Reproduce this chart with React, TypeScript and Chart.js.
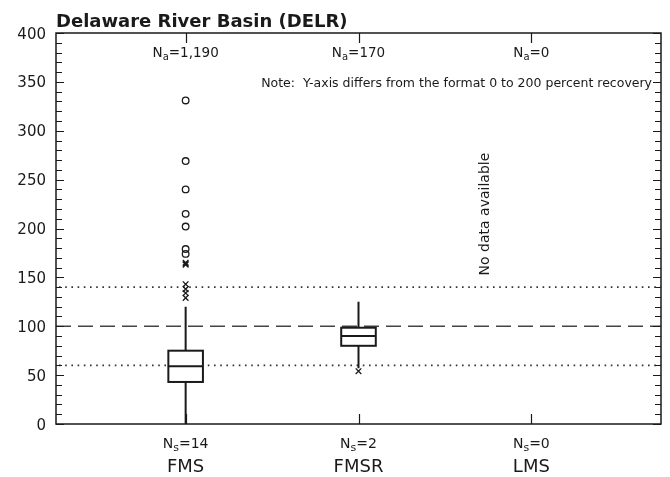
import { useEffect, useRef } from "react";
import { Chart, registerables } from "chart.js";

Chart.register(...registerables);

// Sampling method categories along the x axis
const categories = ["FMS", "FMSR", "LMS"];
// Number of analyses (top) and number of sites (bottom) per method
const analysisCounts = ["1,190", "170", "0"];
const siteCounts = ["14", "2", "0"];

// Box summaries per method: [lower whisker, Q1, median, Q3, upper whisker]
const fmsBox = [0, 43, 59, 75, 120];
const fmsrBox = [57, 80, 90, 98.5, 125];
const boxSummaries: (number[] | null)[] = [fmsBox, fmsrBox, null];

// Outliers beyond 3x the interquartile range (circles) and 1.5x (crosses)
const fmsFarOutliers = [331, 269, 240, 215, 202, 179, 174];
const fmsNearOutliers = [163, 164, 165, 143, 138, 134, 129];
const fmsrNearOutliers = [54];

// Axis ticks and reference lines
const yMajorTicks = [0, 50, 100, 150, 200, 250, 300, 350, 400];
const yMinorStep = 10;
const targetRecovery = 100;
const recoveryLimits = [60, 140];

const FONT = '"DejaVu Sans", "Liberation Sans", Arial, sans-serif';
const INK = "#1a1a1a";

function drawSubscripted(
  ctx: CanvasRenderingContext2D,
  base: string,
  sub: string,
  rest: string,
  cx: number,
  baseline: number,
  size: number
) {
  const big = `${size}px ${FONT}`;
  const small = `${Math.round(size * 0.75)}px ${FONT}`;
  ctx.font = big;
  const w1 = ctx.measureText(base).width;
  const w3 = ctx.measureText(rest).width;
  ctx.font = small;
  const w2 = ctx.measureText(sub).width;
  let x = cx - (w1 + w2 + w3) / 2;
  ctx.textAlign = "left";
  ctx.textBaseline = "alphabetic";
  ctx.font = big;
  ctx.fillText(base, x, baseline);
  x += w1;
  ctx.font = small;
  ctx.fillText(sub, x, baseline + size * 0.2);
  x += w2;
  ctx.font = big;
  ctx.fillText(rest, x, baseline);
}

const boxPlotPlugin = {
  id: "boxPlotPlugin",
  beforeDatasetsDraw(chart: any) {
    const { ctx, chartArea, scales } = chart;
    const xs = scales.x;
    const ys = scales.y;
    ctx.save();
    // reference lines
    ctx.lineWidth = 1.3;
    ctx.strokeStyle = "#444";
    ctx.setLineDash([15, 7]);
    const py = ys.getPixelForValue(targetRecovery);
    ctx.beginPath();
    ctx.moveTo(chartArea.left, py);
    ctx.lineTo(chartArea.right, py);
    ctx.stroke();
    ctx.lineWidth = 1.6;
    ctx.strokeStyle = "#333";
    ctx.setLineDash([1.6, 4.6]);
    recoveryLimits.forEach((v) => {
      const p = ys.getPixelForValue(v);
      ctx.beginPath();
      ctx.moveTo(chartArea.left + 3, p);
      ctx.lineTo(chartArea.right, p);
      ctx.stroke();
    });
    ctx.setLineDash([]);

    // boxes and whiskers
    boxSummaries.forEach((b, i) => {
      if (!b) return;
      const cx = xs.getPixelForValue(i);
      const half = (xs.getPixelForValue(i + 0.1) - xs.getPixelForValue(i - 0.1)) / 2;
      const [lo, q1, med, q3, hi] = b.map((v) => ys.getPixelForValue(v));
      ctx.strokeStyle = INK;
      ctx.lineWidth = 2;
      ctx.beginPath();
      ctx.moveTo(cx, hi);
      ctx.lineTo(cx, q3);
      ctx.moveTo(cx, q1);
      ctx.lineTo(cx, lo);
      ctx.stroke();
      ctx.fillStyle = "#fff";
      ctx.fillRect(cx - half, q3, half * 2, q1 - q3);
      ctx.strokeRect(cx - half, q3, half * 2, q1 - q3);
      ctx.beginPath();
      ctx.moveTo(cx - half, med);
      ctx.lineTo(cx + half, med);
      ctx.stroke();
    });
    ctx.restore();
  },
  afterDraw(chart: any) {
    const { ctx, chartArea, scales } = chart;
    const xs = scales.x;
    const ys = scales.y;
    const { left, right, top, bottom } = chartArea;
    ctx.save();
    ctx.strokeStyle = INK;
    ctx.fillStyle = INK;

    // frame
    ctx.lineWidth = 1.5;
    ctx.strokeRect(left, top, right - left, bottom - top);

    // y ticks on both sides, pointing inward
    ctx.lineWidth = 1.2;
    ctx.beginPath();
    for (let v = 0; v <= 400; v += yMinorStep) {
      const p = Math.round(ys.getPixelForValue(v)) + 0.5;
      const len = v % 50 === 0 ? 8 : 6;
      ctx.moveTo(left, p);
      ctx.lineTo(left + len, p);
      ctx.moveTo(right, p);
      ctx.lineTo(right - len, p);
    }
    // category ticks on top and bottom
    categories.forEach((_, i) => {
      const p = Math.round(xs.getPixelForValue(i)) + 0.5;
      ctx.moveTo(p, top);
      ctx.lineTo(p, top + 10);
      ctx.moveTo(p, bottom);
      ctx.lineTo(p, bottom - 10);
    });
    ctx.stroke();

    // y tick labels
    ctx.font = `15px ${FONT}`;
    ctx.textAlign = "right";
    ctx.textBaseline = "alphabetic";
    yMajorTicks.forEach((v) => {
      ctx.fillText(String(v), left - 10, ys.getPixelForValue(v) + 5.5);
    });

    // counts and category names
    categories.forEach((name, i) => {
      const cx = xs.getPixelForValue(i);
      drawSubscripted(ctx, "N", "a", "=" + analysisCounts[i], cx, top + 24, 13.5);
      drawSubscripted(ctx, "N", "s", "=" + siteCounts[i], cx, bottom + 24, 14);
      ctx.font = `18px ${FONT}`;
      ctx.textAlign = "center";
      ctx.textBaseline = "alphabetic";
      ctx.fillText(name, cx, bottom + 48);
    });

    // title
    ctx.font = `bold 18px ${FONT}`;
    ctx.textAlign = "left";
    ctx.textBaseline = "alphabetic";
    ctx.fillText("Delaware River Basin (DELR)", left, 27);

    // note
    ctx.font = `12.5px ${FONT}`;
    ctx.textAlign = "right";
    ctx.fillText(
      "Note:  Y-axis differs from the format 0 to 200 percent recovery",
      right - 9,
      top + 54
    );

    // empty-category label
    ctx.save();
    ctx.translate(xs.getPixelForValue(2) - 46, ys.getPixelForValue(150) - 2);
    ctx.rotate(-Math.PI / 2);
    ctx.font = `14px ${FONT}`;
    ctx.textAlign = "left";
    ctx.textBaseline = "middle";
    ctx.fillText("No data available", 0, 0);
    ctx.restore();

    ctx.restore();
  },
};

export default function App() {
  const canvasRef = useRef<HTMLCanvasElement | null>(null);

  useEffect(() => {
    const canvas = canvasRef.current;
    if (!canvas) return;
    const toPoints = (idx: number, vals: number[]) => vals.map((y) => ({ x: idx, y }));
    const chart = new Chart(canvas, {
      type: "scatter",
      data: {
        datasets: [
          {
            data: [...toPoints(0, fmsFarOutliers)],
            pointStyle: "circle",
            radius: 3.3,
            borderWidth: 1.3,
            borderColor: INK,
            backgroundColor: "rgba(0,0,0,0)",
          },
          {
            data: [...toPoints(0, fmsNearOutliers), ...toPoints(1, fmsrNearOutliers)],
            pointStyle: "crossRot",
            radius: 4,
            borderWidth: 1.3,
            borderColor: INK,
            backgroundColor: INK,
          },
        ],
      },
      options: {
        responsive: false,
        animation: false,
        layout: { padding: { left: 56, top: 33, right: 9, bottom: 53 } },
        plugins: {
          legend: { display: false },
          tooltip: { enabled: false },
          title: { display: false },
        },
        scales: {
          x: { type: "linear", min: -0.75, max: 2.75, display: false },
          y: { type: "linear", min: 0, max: 400, display: false },
        },
      },
      plugins: [boxPlotPlugin],
    });
    return () => chart.destroy();
  }, []);

  return (
    <div style={{ position: "absolute", left: 0, top: 0, width: 670, height: 477, background: "#fff" }}>
      <canvas ref={canvasRef} width={670} height={477} style={{ display: "block" }} />
    </div>
  );
}
